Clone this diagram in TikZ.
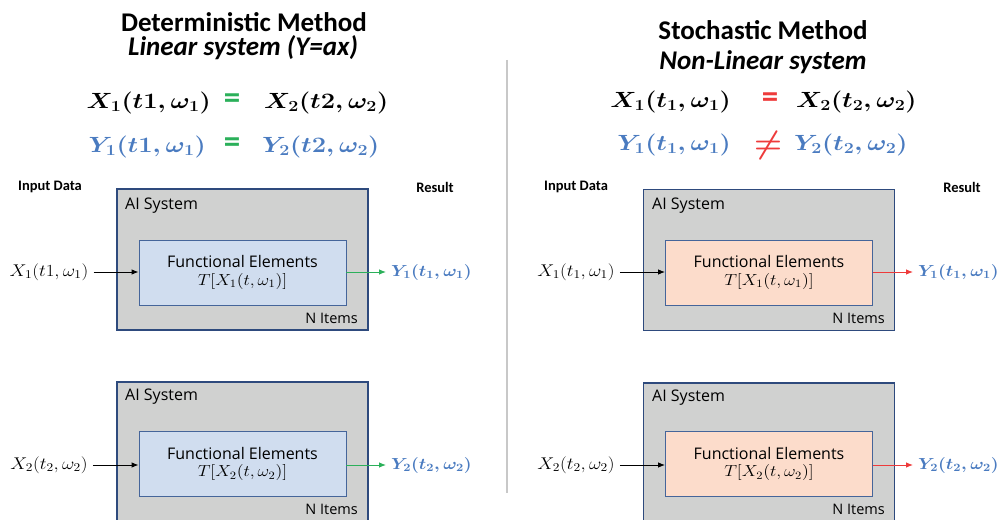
\RequirePackage{fix-cm}
\documentclass[tikz,border=0pt]{standalone}
\usepackage{fontspec}
\usepackage{amsmath}
\usepackage{graphicx}
\setmainfont{Carlito}
\newfontfamily\uifont{Open Sans}
\usetikzlibrary{arrows.meta}
\definecolor{boxgray}{HTML}{D0D1D0}
\definecolor{navy}{HTML}{2E4A7D}
\definecolor{innerblue}{HTML}{D0DDEF}
\definecolor{innerline}{HTML}{45659A}
\definecolor{peach}{HTML}{FCDCCB}
\definecolor{bluetext}{HTML}{4A7BC0}
\definecolor{eqgreen}{HTML}{2BB05A}
\definecolor{eqred}{HTML}{EE3B3B}
\definecolor{divider}{HTML}{C8C8C8}
\newcommand{\wide}[1]{\scalebox{1.16}[1]{#1}}
\newcommand{\wideb}[1]{\scalebox{1.12}[1]{#1}}
\begin{document}
\begin{tikzpicture}[x=1pt,y=-1pt,
  outerbox/.style={draw=navy, line width=1.8pt, fill=boxgray, minimum width=251pt, minimum height=141pt, inner sep=0pt},
  innerbox/.style={draw=innerline, line width=0.9pt, fill=innerblue, minimum width=207pt, minimum height=65pt, inner sep=0pt, align=center, font=\uifont\fontsize{16}{19.5}\selectfont},
  innerboxr/.style={innerbox, fill=peach},
  boxlabel/.style={font=\uifont\fontsize{14.5}{17}\selectfont, inner sep=0pt},
  ailabel/.style={font=\uifont\fontsize{16}{19}\selectfont, inner sep=0pt},
  title/.style={font=\bfseries\fontsize{27}{31}\selectfont, inner sep=0pt},
  subtitle/.style={font=\bfseries\itshape\fontsize{27}{31}\selectfont, inner sep=0pt},
  eq/.style={font=\fontsize{22}{26}\selectfont\boldmath, inner sep=0pt},
  bigeq/.style={font=\bfseries\fontsize{33}{33}\selectfont, inner sep=0pt},
  small/.style={font=\bfseries\fontsize{14.5}{17}\selectfont, inner sep=0pt},
  iolabel/.style={font=\fontsize{17}{20}\selectfont, inner sep=5pt},
  outlabel/.style={font=\fontsize{16}{19}\selectfont\boldmath, text=bluetext, inner sep=5pt},
  arr/.style={-{Latex[length=7pt,width=5.5pt]}, line width=0.9pt}
]
\useasboundingbox (0,0) rectangle (1003,519);
\clip (0,0) rectangle (1003,519);

% divider
\coordinate (dtop) at (507,60);
\coordinate (dbot) at (507,493);
\draw[divider, line width=1.6pt] (dtop) -- (dbot);

% ---------- left titles ----------
\node[title] (t1) at (244,22) {Deterministic Method};
\node[subtitle] (s1) at (243,48) {Linear system (Y=ax)};

\node[eq, anchor=east] (l1a) at (211,103) {\wide{$X_1(t1,\omega_1)$}};
\node[bigeq, text=eqgreen] (l1e) at (232,101) {=};
\node[eq, anchor=west] (l1b) at (264,103) {\wide{$X_2(t2,\omega_2)$}};
\node[eq, anchor=east, text=bluetext] (l2a) at (206,147) {\wide{$Y_1(t1,\omega_1)$}};
\node[bigeq, text=eqgreen] (l2e) at (232,145) {=};
\node[eq, anchor=west, text=bluetext] (l2b) at (262,147) {\wide{$Y_2(t2,\omega_2)$}};

% ---------- right titles ----------
\node[title] (t2) at (763,30) {Stochastic Method};
\node[subtitle] (s2) at (763,62) {Non-Linear system};

\node[eq, anchor=east] (r1a) at (731,102) {\wide{$X_1(t_1,\omega_1)$}};
\node[bigeq, text=eqred] (r1e) at (770,100) {=};
\node[eq, anchor=west] (r1b) at (796,102) {\wide{$X_2(t_2,\omega_2)$}};
\node[eq, anchor=east, text=bluetext] (r2a) at (731,145) {\wide{$Y_1(t_1,\omega_1)$}};
\node[font=\fontsize{32}{32}\selectfont\boldmath, text=eqred, inner sep=0pt] (r2e) at (768,145) {$\neq$};
\node[eq, anchor=west, text=bluetext] (r2b) at (794,145) {\wide{$Y_2(t_2,\omega_2)$}};

% ---------- headers ----------
\node[small] (in1) at (50,187) {Input Data};
\node[small] (res1) at (435,187) {Result};
\node[small] (in2) at (576,187) {Input Data};
\node[small] (res2) at (962,187) {Result};

% ---------- left top ----------
\node[outerbox] (o1) at (242.5,259.5) {};
\node[ailabel, anchor=west] (a1) at (125,206) {AI System};
\node[boxlabel, anchor=east] (n1) at (358,318) {N Items};
\node[innerbox] (f1) at (242.5,272.5) {Functional Elements\\[-2pt] \wideb{$T[X_1(t,\omega_1)]$}};
\node[iolabel] (x1) at (49,272) {\wideb{$X_1(t1,\omega_1)$}};
\node[outlabel, anchor=west] (y1) at (386,272) {\wideb{$Y_1(t_1,\omega_1)$}};
\draw[arr] (x1.east) -- (f1.west |- x1.east);
\draw[arr, eqgreen] (f1.east |- y1.west) -- (y1.west);

% ---------- left bottom ----------
\node[outerbox] (o2) at (242.5,452.5) {};
\node[ailabel, anchor=west] (a2) at (125,397) {AI System};
\node[boxlabel, anchor=east] (n2) at (358,509) {N Items};
\node[innerbox] (f2) at (242.5,464) {Functional Elements\\[-2pt] \wideb{$T[X_2(t,\omega_2)]$}};
\node[iolabel] (x2) at (49,465) {\wideb{$X_2(t_2,\omega_2)$}};
\node[outlabel, anchor=west] (y2) at (386,465) {\wideb{$Y_2(t_2,\omega_2)$}};
\draw[arr] (x2.east) -- (f2.west |- x2.east);
\draw[arr, eqgreen] (f2.east |- y2.west) -- (y2.west);

% ---------- right top ----------
\node[outerbox] (o3) at (769,260) {};
\node[ailabel, anchor=west] (a3) at (652,206) {AI System};
\node[boxlabel, anchor=east] (n3) at (885,318) {N Items};
\node[innerboxr] (f3) at (769,272.5) {Functional Elements\\[-2pt] \wideb{$T[X_1(t,\omega_1)]$}};
\node[iolabel] (x3) at (576,272) {\wideb{$X_1(t_1,\omega_1)$}};
\node[outlabel, anchor=west] (y3) at (913,272) {\wideb{$Y_1(t_1,\omega_1)$}};
\draw[arr] (x3.east) -- (f3.west |- x3.east);
\draw[arr, eqred] (f3.east |- y3.west) -- (y3.west);

% ---------- right bottom ----------
\node[outerbox] (o4) at (769,453.5) {};
\node[ailabel, anchor=west] (a4) at (652,398) {AI System};
\node[boxlabel, anchor=east] (n4) at (885,509) {N Items};
\node[innerboxr] (f4) at (769,464) {Functional Elements\\[-2pt] \wideb{$T[X_2(t,\omega_2)]$}};
\node[iolabel] (x4) at (576,465) {\wideb{$X_2(t_2,\omega_2)$}};
\node[outlabel, anchor=west] (y4) at (913,465) {\wideb{$Y_2(t_2,\omega_2)$}};
\draw[arr] (x4.east) -- (f4.west |- x4.east);
\draw[arr, eqred] (f4.east |- y4.west) -- (y4.west);
\end{tikzpicture}
\end{document}
